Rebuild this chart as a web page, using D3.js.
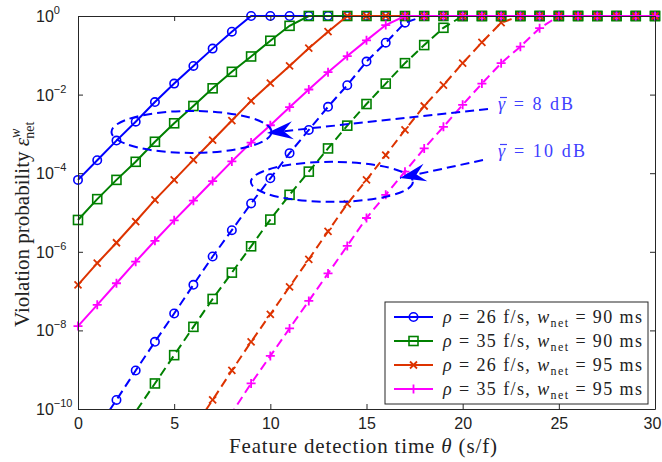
<html>
<head>
<style>
  body { margin: 0; background: #fff; }
  svg text { font-family: "Liberation Serif", "DejaVu Serif", serif; }
  .tick text, .ylab { font-family: "Liberation Sans", Arial, sans-serif; }
</style>
</head>
<body>
<div id="vis"></div>
<script src="https://d3js.org/d3.v7.min.js"></script>
<script>
// feature detection time theta (s/f)
const theta = [0,1,2,3,4,5,6,7,8,9,10,11,12,13,14,15,16,17,18,19,20,21,22,23,24,25,26,27,28,29,30]

// log10 of violation probability (null = not on the chart)
// gamma = 8 dB (solid)
const rho26_w90_8dB = [-4.17,-3.67,-3.17,-2.69,-2.19,-1.72,-1.27,-0.83,-0.40,0, 0,0,0,0,0,0,0,0,0,0, 0,0,0,0,0,0,0,0,0,0,0]
const rho35_w90_8dB = [-5.19,-4.66,-4.17,-3.71,-3.20,-2.73,-2.29,-1.84,-1.42,-1.03, -0.63,-0.25,0,0,0,0,0,0,0,0, 0,0,0,0,0,0,0,0,0,0,0]
const rho26_w95_8dB = [-6.84,-6.29,-5.77,-5.23,-4.68,-4.17,-3.66,-3.16,-2.66,-2.16, -1.71,-1.27,-0.82,-0.40,0,0,0,0,0,0, 0,0,0,0,0,0,0,0,0,0,0]
const rho35_w95_8dB = [-7.89,-7.35,-6.80,-6.25,-5.72,-5.20,-4.70,-4.20,-3.70,-3.22, -2.78,-2.32,-1.87,-1.43,-1.02,-0.62,-0.23,0,0,0, 0,0,0,0,0,0,0,0,0,0,0]
// gamma = 10 dB (dashed)
const rho26_w90_10dB = [-11.2,-10.5,-9.77,-9.02,-8.29,-7.57,-6.84,-6.12,-5.45,-4.77, -4.13,-3.49,-2.90,-2.31,-1.76,-1.16,-0.68,-0.17,0,0, 0,0,0,0,0,0,0,0,0,0,0]
const rho35_w90_10dB = [null,-11.5,-10.8,-10.07,-9.35,-8.63,-7.91,-7.20,-6.53,-5.86, -5.18,-4.55,-3.96,-3.37,-2.79,-2.24,-1.72,-1.20,-0.74,-0.30, 0,0,0,0,0,0,0,0,0,0,0]
const rho26_w95_10dB = [null,null,null,null,null,-11.2,-10.5,-9.77,-9.02,-8.29, -7.59,-6.89,-6.19,-5.48,-4.78,-4.17,-3.54,-2.90,-2.29,-1.76, -1.20,-0.67,-0.17,0,0,0,0,0,0,0,0]
const rho35_w95_10dB = [null,null,null,null,null,null,null,-10.75,-10.1,-9.35, -8.65,-7.95,-7.25,-6.55,-5.85,-5.14,-4.55,-3.96,-3.37,-2.82, -2.26,-1.72,-1.20,-0.78,-0.31,0,0,0,0,0,0]

const legendLabels = [['26','90'],['35','90'],['26','95'],['35','95']]
const gammaLabels = ['8','10']
const xTicks = [0,5,10,15,20,25,30]
const yTickExp = [0,-2,-4,-6,-8,-10]

const colors = ['#0000ff','#008000','#dd3300','#ff00ff']
const markers = ['circle','square','cross','plus']

const margin = {left:78, top:16, right:7, bottom:53},
      W = 662, H = 462,
      width = W - margin.left - margin.right,
      height = H - margin.top - margin.bottom

const x = d3.scaleLinear().domain([0,30]).range([0,width])
const y = d3.scaleLog().domain([1e-10,1]).range([height,0])

const svg = d3.select('#vis').append('svg').attr('width',W).attr('height',H)
const g = svg.append('g').attr('transform','translate('+margin.left+','+margin.top+')')

// clip only below the axis (markers on the top edge stay whole)
svg.append('defs').append('clipPath').attr('id','clip')
  .append('rect').attr('x',-20).attr('y',-20).attr('width',width+40).attr('height',height+20)

// dashed ones first, solid on top (as in the picture)
const series = [
  {v:rho26_w90_10dB,c:0,dash:true},{v:rho35_w90_10dB,c:1,dash:true},
  {v:rho26_w95_10dB,c:2,dash:true},{v:rho35_w95_10dB,c:3,dash:true},
  {v:rho26_w90_8dB,c:0,dash:false},{v:rho35_w90_8dB,c:1,dash:false},
  {v:rho26_w95_8dB,c:2,dash:false},{v:rho35_w95_8dB,c:3,dash:false}
]

function drawMarker(sel, type, color){
  if(type==='circle'){
    sel.append('circle').attr('r',4.2).attr('fill','none').attr('stroke',color).attr('stroke-width',1.6)
  } else if(type==='square'){
    sel.append('rect').attr('x',-4.5).attr('y',-4.5).attr('width',9).attr('height',9)
      .attr('fill','none').attr('stroke',color).attr('stroke-width',1.6)
  } else if(type==='cross'){
    sel.append('path').attr('d','M-3.5,-3.5L3.5,3.5M-3.5,3.5L3.5,-3.5').attr('stroke',color).attr('stroke-width',1.8)
  } else {
    sel.append('path').attr('d','M-4.5,0L4.5,0M0,-4.5L0,4.5').attr('stroke',color).attr('stroke-width',1.8)
  }
}

const line = d3.line()
  .defined(d=>d[1]!=null)
  .x(d=>x(d[0]))
  .y(d=>y(Math.pow(10,d[1])))

const plot = g.append('g').attr('clip-path','url(#clip)')
series.forEach(s=>{
  const pts = theta.map((t,i)=>[t,s.v[i]])
  plot.append('path')
    .datum(pts)
    .attr('d',line)
    .attr('fill','none')
    .attr('stroke',colors[s.c])
    .attr('stroke-width',2)
    .attr('stroke-dasharray',s.dash ? '9,5' : null)
  plot.selectAll(null)
    .data(pts.filter(d=>d[1]!=null && d[1]>=-10))
    .join('g')
    .attr('transform',d=>'translate('+x(d[0])+','+y(Math.pow(10,d[1]))+')')
    .each(function(){ drawMarker(d3.select(this),markers[s.c],colors[s.c]) })
})

// annotations
const annBlue = '#0000ff'
const ann = g.append('g')
ann.append('ellipse').attr('cx',x(5.9)).attr('cy',y(Math.pow(10,-2.95))).attr('rx',80).attr('ry',21)
  .attr('fill','none').attr('stroke',annBlue).attr('stroke-width',2).attr('stroke-dasharray','9,5')
ann.append('ellipse').attr('cx',x(13.2)).attr('cy',y(Math.pow(10,-4.22))).attr('rx',81).attr('ry',20)
  .attr('fill','none').attr('stroke',annBlue).attr('stroke-width',2).attr('stroke-dasharray','9,5')

function arrow(x1,y1,x2,y2){
  ann.append('line').attr('x1',x1).attr('y1',y1).attr('x2',x2).attr('y2',y2)
    .attr('stroke',annBlue).attr('stroke-width',2).attr('stroke-dasharray','9,5')
  const a = Math.atan2(y2-y1,x2-x1), L = 26, Wd = 9
  const bx = x2 - L*Math.cos(a), by = y2 - L*Math.sin(a)
  const mx = x2 - 0.65*L*Math.cos(a), my = y2 - 0.65*L*Math.sin(a)
  const px = -Math.sin(a), py = Math.cos(a)
  ann.append('path')
    .attr('d','M'+x2+','+y2+'L'+(bx+px*Wd)+','+(by+py*Wd)+'L'+mx+','+my+'L'+(bx-px*Wd)+','+(by-py*Wd)+'Z')
    .attr('fill',annBlue)
}
arrow(410,93,189,117)
arrow(405,144,322,162)

const annText = g.append('g').attr('fill','#4040ff')
const annPos = [[420,94,75],[420,141,87]]
gammaLabels.forEach((v,i)=>{
  const p = annPos[i]
  const t = annText.append('text').attr('x',p[0]).attr('y',p[1]).attr('font-size',18)
    .attr('textLength',p[2]).attr('lengthAdjust','spacing')
  t.append('tspan').attr('font-style','italic').text('γ')
  t.append('tspan').text(' = '+v+' dB')
  annText.append('line').attr('x1',p[0]+2).attr('x2',p[0]+9).attr('y1',p[1]-12.5).attr('y2',p[1]-12.5)
    .attr('stroke','#4040ff').attr('stroke-width',1.2)
})

// axes
const axisColor = '#262626'
const xAxis = g.append('g').attr('transform','translate(0,'+height+')')
  .call(d3.axisBottom(x).tickValues(xTicks).tickSizeInner(-5).tickSizeOuter(0).tickPadding(9))
const xTop = g.append('g')
  .call(d3.axisTop(x).tickValues(xTicks).tickSizeInner(-5).tickSizeOuter(0).tickFormat(''))
const yAxis = g.append('g')
  .call(d3.axisLeft(y).tickValues(yTickExp.map(e=>Math.pow(10,e))).tickSizeInner(-5).tickSizeOuter(0).tickFormat(''))
const yRight = g.append('g').attr('transform','translate('+width+',0)')
  .call(d3.axisRight(y).tickValues(yTickExp.map(e=>Math.pow(10,e))).tickSizeInner(-5).tickSizeOuter(0).tickFormat(''))
;[xAxis,xTop,yAxis,yRight].forEach(a=>{
  a.select('.domain').attr('stroke',axisColor)
  a.selectAll('.tick line').attr('stroke',axisColor)
})
xAxis.selectAll('.tick text').attr('font-size',16).attr('fill','#222')
  .attr('dx',d=>d===30 ? -3 : 0)

yTickExp.forEach(e=>{
  const t = g.append('text').attr('class','ylab').attr('x',-42).attr('y',y(Math.pow(10,e))+6)
    .attr('font-size',16).attr('fill','#222')
  t.append('tspan').text('10')
  t.append('tspan').attr('dy',-8).attr('font-size',11).text(e===0 ? '0' : '−'+(-e))
})

// axis titles
const xt = svg.append('text').attr('x',229).attr('y',453)
  .attr('font-size',21).attr('fill','#222')
  .attr('textLength',268).attr('lengthAdjust','spacing')
xt.append('tspan').text('Feature detection time ')
xt.append('tspan').attr('font-style','italic').text('θ')
xt.append('tspan').text(' (s/f)')

const yt = svg.append('text').attr('transform','translate(29,327) rotate(-90)')
  .attr('font-size',21).attr('fill','#222')
yt.append('tspan').text('Violation probability ')
yt.append('tspan').attr('font-style','italic').text('ε')
yt.append('tspan').attr('font-style','italic').attr('font-size',14).attr('dy',-9).text('w')
yt.append('tspan').attr('font-size',14).attr('dx',-10).attr('dy',14).text('net')

// legend
const leg = g.append('g').attr('transform','translate('+(385-margin.left)+','+(302-margin.top)+')')
leg.append('rect').attr('width',263).attr('height',102).attr('fill','#fff')
  .attr('stroke',axisColor).attr('stroke-width',1)
legendLabels.forEach((lab,i)=>{
  const row = leg.append('g').attr('transform','translate(0,'+(15+i*24)+')')
  row.append('line').attr('x1',9).attr('x2',48).attr('stroke',colors[i]).attr('stroke-width',2)
  const m = row.append('g').attr('transform','translate(28.5,0)')
  drawMarker(m,markers[i],colors[i])
  const t = row.append('text').attr('x',58).attr('y',6).attr('font-size',18).attr('fill','#222')
    .attr('textLength',199).attr('lengthAdjust','spacing')
  t.append('tspan').attr('font-style','italic').text('ρ')
  t.append('tspan').text(' = '+lab[0]+' f/s, ')
  t.append('tspan').attr('font-style','italic').text('w')
  t.append('tspan').attr('font-size',12).attr('dy',4).text('net')
  t.append('tspan').attr('dy',-4).text(' = '+lab[1]+' ms')
})
</script>
</body>
</html>
